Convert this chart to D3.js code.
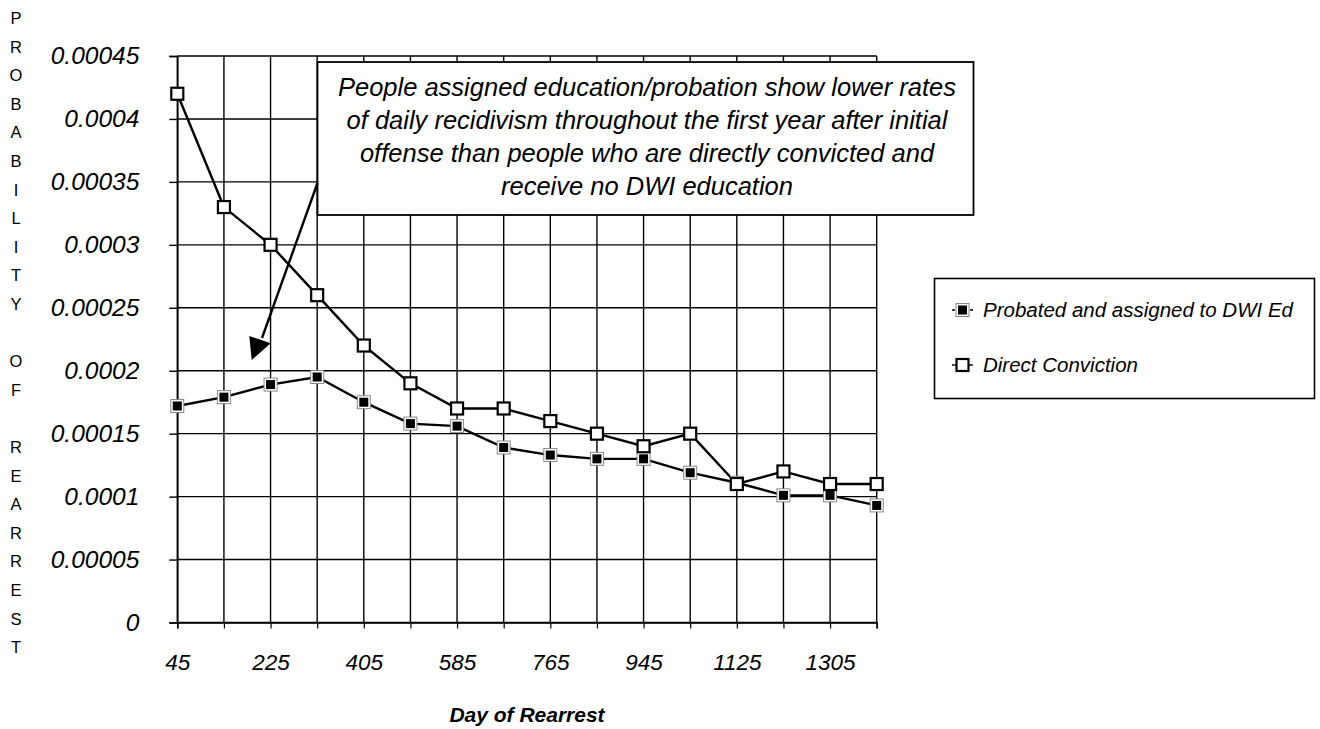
<!DOCTYPE html>
<html><head><meta charset="utf-8">
<script src="https://cdn.jsdelivr.net/npm/d3@7"></script>
<style>body{margin:0;background:#fff}svg{display:block}</style>
</head><body>
<svg id="c" width="1320" height="729"></svg>
<script>
const days = [45,135,225,315,405,495,585,675,765,855,945,1035,1125,1215,1305,1395];
const probated = [0.000172,0.000179,0.000189,0.000195,0.000175,0.000158,0.000156,0.000139,0.000133,0.00013,0.00013,0.000119,0.000111,0.000101,0.000101,0.000093];
const direct = [0.00042,0.00033,0.0003,0.00026,0.00022,0.00019,0.00017,0.00017,0.00016,0.00015,0.00014,0.00015,0.00011,0.00012,0.00011,0.00011];
const yTicks = [0,0.00005,0.0001,0.00015,0.0002,0.00025,0.0003,0.00035,0.0004,0.00045];
const yTickLabels = ["0","0.00005","0.0001","0.00015","0.0002","0.00025","0.0003","0.00035","0.0004","0.00045"];
const xLabelEvery = 2;
const seriesNames = ["Probated and assigned to DWI Ed","Direct Conviction"];
const yTitle = "PROBABILITY OF REARREST";
const xTitle = "Day of Rearrest";
const noteLines = ["People assigned education/probation show lower rates","of daily recidivism throughout the first year after initial","offense than people who are directly convicted and","receive no DWI education"];

const svg = d3.select("#c");
const font = "'Liberation Sans', Arial, sans-serif";
const x = d3.scalePoint().domain(days).range([177.3, 876.7]);
const y = d3.scaleLinear().domain([0, 0.00045]).range([622.5, 56]);

// horizontal gridlines
svg.append("g").selectAll("line").data(yTicks).join("line")
  .attr("x1", 177.3).attr("x2", 876.7)
  .attr("y1", d => y(d)).attr("y2", d => y(d))
  .attr("stroke", "#000").attr("stroke-width", 1.4);
// vertical gridlines
svg.append("g").selectAll("line").data(days).join("line")
  .attr("x1", d => x(d)).attr("x2", d => x(d))
  .attr("y1", y(0.00045)).attr("y2", y(0))
  .attr("stroke", "#000").attr("stroke-width", 1.4);

// y axis
const yAxis = d3.axisLeft(y).tickValues(yTicks).tickSize(8).tickPadding(30)
  .tickFormat((d,i) => yTickLabels[i]);
const gy = svg.append("g").attr("transform", "translate(177.3,0)").call(yAxis);
gy.select(".domain").attr("stroke-width", 1.6);
gy.selectAll(".tick line").attr("stroke-width", 1.4);
gy.selectAll("text").attr("font-family", font).attr("font-style", "italic")
  .attr("font-size", 24.5).attr("fill", "#000");

// x axis
const xAxis = d3.axisBottom(x).tickSize(6).tickPadding(26)
  .tickFormat((d,i) => i % xLabelEvery === 0 ? d : "");
const gx = svg.append("g").attr("transform", `translate(0,${y(0)})`).call(xAxis);
gx.select(".domain").attr("stroke-width", 1.6);
gx.selectAll(".tick line").attr("stroke-width", 1.2);
gx.selectAll("text").attr("font-family", font).attr("font-style", "italic")
  .attr("font-size", 22.5).attr("fill", "#000");

// lines
const line = d3.line().x((d,i) => x(days[i])).y(d => y(d));
svg.append("path").datum(direct).attr("d", line).attr("fill", "none")
  .attr("stroke", "#000").attr("stroke-width", 2.4);
svg.append("path").datum(probated).attr("d", line).attr("fill", "none")
  .attr("stroke", "#000").attr("stroke-width", 2.4);

// markers
function probMarker(g, cx, cy) {
  g.append("rect").attr("x", cx-6.5).attr("y", cy-6.5).attr("width", 13).attr("height", 13)
    .attr("fill", "#fff").attr("stroke", "#888").attr("stroke-width", 1);
  g.append("rect").attr("x", cx-4.5).attr("y", cy-4.5).attr("width", 9).attr("height", 9)
    .attr("fill", "#000");
}
function directMarker(g, cx, cy) {
  g.append("rect").attr("x", cx-6).attr("y", cy-6).attr("width", 12).attr("height", 12)
    .attr("fill", "#fff").attr("stroke", "#000").attr("stroke-width", 2.2);
}
const gm = svg.append("g");
probated.forEach((v,i) => probMarker(gm, x(days[i]), y(v)));
direct.forEach((v,i) => directMarker(gm, x(days[i]), y(v)));

// annotation box
svg.append("rect").attr("x", 317.5).attr("y", 62).attr("width", 656).attr("height", 153)
  .attr("fill", "#fff").attr("stroke", "#000").attr("stroke-width", 1.8);
svg.append("g").selectAll("text").data(noteLines).join("text")
  .attr("x", 647).attr("y", (d,i) => 96 + i*33)
  .attr("text-anchor", "middle").attr("font-family", font).attr("font-style", "italic")
  .attr("font-size", 25.5).text(d => d);

// arrow
svg.append("line").attr("x1", 317.5).attr("y1", 183).attr("x2", 262).attr("y2", 338)
  .attr("stroke", "#000").attr("stroke-width", 2.4);
svg.append("path").attr("d", "M251.7,360 L249.3,336 L270.7,343.3 Z").attr("fill", "#000");

// legend
svg.append("rect").attr("x", 934.5).attr("y", 278.5).attr("width", 380).attr("height", 120)
  .attr("fill", "#fff").attr("stroke", "#000").attr("stroke-width", 1.6);
const lg = svg.append("g");
[310, 365].forEach((ly, i) => {
  lg.append("line").attr("x1", 952).attr("x2", 973).attr("y1", ly).attr("y2", ly)
    .attr("stroke", "#000").attr("stroke-width", 1.4).attr("stroke-dasharray", i === 0 ? "3,3" : null);
  if (i === 0) probMarker(lg, 962.5, ly); else directMarker(lg, 962.5, ly);
  lg.append("text").attr("x", 983).attr("y", ly + 7).attr("font-family", font)
    .attr("font-style", "italic").attr("font-size", 20.5).text(seriesNames[i]);
});

// y title (stacked letters)
const letters = yTitle.split("");
svg.append("g").selectAll("text").data(letters).join("text")
  .attr("x", 16).attr("y", (d,i) => 18 + i*28.6 + 6)
  .attr("text-anchor", "middle").attr("font-family", font).attr("font-size", 16.5)
  .text(d => d);

// x title
svg.append("text").attr("x", 527).attr("y", 722).attr("text-anchor", "middle")
  .attr("font-family", font).attr("font-style", "italic").attr("font-weight", "bold")
  .attr("font-size", 21).text(xTitle);
</script>
</body></html>
